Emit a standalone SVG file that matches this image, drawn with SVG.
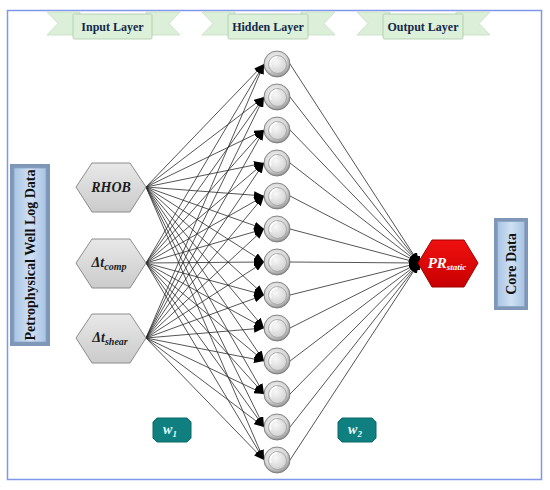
<svg xmlns="http://www.w3.org/2000/svg" width="550" height="490" viewBox="0 0 550 490">
<style>
.edge{stroke:#2a2a2a;stroke-width:0.8;fill:none}
.in{marker-end:url(#arr)}
.out{marker-end:url(#arr)}
.banner-tail{fill:#dcefd9;stroke:#c3dfc0;stroke-width:0.8}
.banner-body{fill:#ddf0da;stroke:#a9c9a6;stroke-width:0.8}
.banner-text{font-family:"Liberation Serif",serif;font-weight:bold;font-size:12px;fill:#14284b;text-anchor:middle}
.hex{fill:url(#hexg);stroke:#8c8c8c;stroke-width:1}
.hextext{font-family:"Liberation Serif",serif;font-weight:bold;font-style:italic;font-size:14px;fill:#1c1c1c;text-anchor:middle}
.side{font-family:"Liberation Serif",serif;font-weight:bold;font-size:14px;fill:#111;text-anchor:middle}
.wbox{fill:#0f7f80;stroke:#0a6a6b;stroke-width:1}
.wtext{font-family:"Liberation Serif",serif;font-style:italic;font-weight:bold;font-size:14px;fill:#e6fbfb;text-anchor:middle}
</style>
<defs>
<marker id="arr" viewBox="0 0 10 8" refX="10" refY="4" markerWidth="10" markerHeight="8" markerUnits="userSpaceOnUse" orient="auto">
<path d="M0,0 L10,4 L0,8 z" fill="#000"/>
</marker>
<linearGradient id="hexg" x1="0" y1="0" x2="0" y2="1">
<stop offset="0" stop-color="#e8e8e8"/>
<stop offset="1" stop-color="#cbcbcb"/>
</linearGradient>
<radialGradient id="nodeg" cx="0.45" cy="0.4" r="0.6">
<stop offset="0" stop-color="#ffffff"/>
<stop offset="0.7" stop-color="#d6d6d6"/>
<stop offset="1" stop-color="#8e8e8e"/>
</radialGradient>
<radialGradient id="innerg" cx="0.4" cy="0.35" r="0.7">
<stop offset="0" stop-color="#f8f8f8"/>
<stop offset="1" stop-color="#d0d0d0"/>
</radialGradient>
<linearGradient id="boxg" x1="0" y1="0" x2="1" y2="0">
<stop offset="0" stop-color="#a9c4e4"/>
<stop offset="0.5" stop-color="#cfe0f3"/>
<stop offset="1" stop-color="#a9c4e4"/>
</linearGradient>
<linearGradient id="redg" x1="0" y1="0" x2="0" y2="1">
<stop offset="0" stop-color="#f01010"/>
<stop offset="1" stop-color="#c80000"/>
</linearGradient>
<symbol id="node" overflow="visible">
<circle cx="0" cy="0" r="13" fill="url(#nodeg)" stroke="#7a7a7a" stroke-width="0.9"/>
<circle cx="0.5" cy="0.5" r="9" fill="url(#innerg)" stroke="#9a9a9a" stroke-width="0.8"/>
<path d="M-6,3 A7,7 0 0 1 0,-7" stroke="#ffffff" stroke-width="1.5" fill="none"/>
</symbol>
</defs>
<rect x="0" y="0" width="550" height="490" fill="#ffffff"/>
<rect x="7.5" y="10.5" width="534" height="469" fill="none" stroke="#7f96ea" stroke-width="1.5"/>

<g id="banner-input">
<polygon class="banner-tail" points="47,12 80,12 80,35 47,35 58,23.5"/>
<polygon class="banner-tail" points="180,12 146,12 146,35 180,35 169,23.5"/>
<rect class="banner-body" x="73" y="14" width="79" height="25" rx="1.5"/>
<text class="banner-text" x="112.5" y="31">Input Layer</text>
</g>
<g id="banner-hidden">
<polygon class="banner-tail" points="202,12 235,12 235,35 202,35 213,23.5"/>
<polygon class="banner-tail" points="335,12 301,12 301,35 335,35 324,23.5"/>
<rect class="banner-body" x="228" y="14" width="80" height="25" rx="1.5"/>
<text class="banner-text" x="268" y="31">Hidden Layer</text>
</g>
<g id="banner-output">
<polygon class="banner-tail" points="357,12 390,12 390,35 357,35 368,23.5"/>
<polygon class="banner-tail" points="490,12 456,12 456,35 490,35 479,23.5"/>
<rect class="banner-body" x="383" y="14" width="80" height="25" rx="1.5"/>
<text class="banner-text" x="423" y="31">Output Layer</text>
</g>

<g id="connectors">
<line class="edge in" x1="146" y1="187" x2="264" y2="64"/>
<line class="edge in" x1="146" y1="187" x2="264" y2="97"/>
<line class="edge in" x1="146" y1="187" x2="264" y2="130"/>
<line class="edge in" x1="146" y1="187" x2="264" y2="163"/>
<line class="edge in" x1="146" y1="187" x2="264" y2="196"/>
<line class="edge in" x1="146" y1="187" x2="264" y2="229"/>
<line class="edge in" x1="146" y1="187" x2="264" y2="262"/>
<line class="edge in" x1="146" y1="187" x2="264" y2="295"/>
<line class="edge in" x1="146" y1="187" x2="264" y2="328"/>
<line class="edge in" x1="146" y1="187" x2="264" y2="361"/>
<line class="edge in" x1="146" y1="187" x2="264" y2="394"/>
<line class="edge in" x1="146" y1="187" x2="264" y2="427"/>
<line class="edge in" x1="146" y1="187" x2="264" y2="460"/>
<line class="edge in" x1="146" y1="263" x2="264" y2="64"/>
<line class="edge in" x1="146" y1="263" x2="264" y2="97"/>
<line class="edge in" x1="146" y1="263" x2="264" y2="130"/>
<line class="edge in" x1="146" y1="263" x2="264" y2="163"/>
<line class="edge in" x1="146" y1="263" x2="264" y2="196"/>
<line class="edge in" x1="146" y1="263" x2="264" y2="229"/>
<line class="edge in" x1="146" y1="263" x2="264" y2="262"/>
<line class="edge in" x1="146" y1="263" x2="264" y2="295"/>
<line class="edge in" x1="146" y1="263" x2="264" y2="328"/>
<line class="edge in" x1="146" y1="263" x2="264" y2="361"/>
<line class="edge in" x1="146" y1="263" x2="264" y2="394"/>
<line class="edge in" x1="146" y1="263" x2="264" y2="427"/>
<line class="edge in" x1="146" y1="263" x2="264" y2="460"/>
<line class="edge in" x1="146" y1="338" x2="264" y2="64"/>
<line class="edge in" x1="146" y1="338" x2="264" y2="97"/>
<line class="edge in" x1="146" y1="338" x2="264" y2="130"/>
<line class="edge in" x1="146" y1="338" x2="264" y2="163"/>
<line class="edge in" x1="146" y1="338" x2="264" y2="196"/>
<line class="edge in" x1="146" y1="338" x2="264" y2="229"/>
<line class="edge in" x1="146" y1="338" x2="264" y2="262"/>
<line class="edge in" x1="146" y1="338" x2="264" y2="295"/>
<line class="edge in" x1="146" y1="338" x2="264" y2="328"/>
<line class="edge in" x1="146" y1="338" x2="264" y2="361"/>
<line class="edge in" x1="146" y1="338" x2="264" y2="394"/>
<line class="edge in" x1="146" y1="338" x2="264" y2="427"/>
<line class="edge in" x1="146" y1="338" x2="264" y2="460"/>
<line class="edge out" x1="290" y1="64" x2="419" y2="263"/>
<line class="edge out" x1="290" y1="97" x2="419" y2="263"/>
<line class="edge out" x1="290" y1="130" x2="419" y2="263"/>
<line class="edge out" x1="290" y1="163" x2="419" y2="263"/>
<line class="edge out" x1="290" y1="196" x2="419" y2="263"/>
<line class="edge out" x1="290" y1="229" x2="419" y2="263"/>
<line class="edge out" x1="290" y1="262" x2="419" y2="263"/>
<line class="edge out" x1="290" y1="295" x2="419" y2="263"/>
<line class="edge out" x1="290" y1="328" x2="419" y2="263"/>
<line class="edge out" x1="290" y1="361" x2="419" y2="263"/>
<line class="edge out" x1="290" y1="394" x2="419" y2="263"/>
<line class="edge out" x1="290" y1="427" x2="419" y2="263"/>
<line class="edge out" x1="290" y1="460" x2="419" y2="263"/>
</g>

<g id="petrophysical">
<rect x="10" y="164" width="40" height="182" fill="#7e97b8"/>
<rect x="14" y="168" width="32" height="174" fill="url(#boxg)" stroke="#8aa3c4" stroke-width="0.8"/>
<text class="side" transform="translate(35,255) rotate(-90)">Petrophysical Well Log Data</text>
</g>

<g id="rhob">
<polygon class="hex" points="76,187 92,163 130,163 146,187 130,212 92,212"/>
<text class="hextext" x="111" y="192">RHOB</text>
</g>
<g id="dt-comp">
<polygon class="hex" points="76,263 92,239 130,239 146,263 130,288 92,288"/>
<text class="hextext" x="109" y="267">Δt<tspan font-size="10" dy="3">comp</tspan></text>
</g>
<g id="dt-shear">
<polygon class="hex" points="76,338 92,314 130,314 146,338 130,363 92,363"/>
<text class="hextext" x="110" y="342">Δt<tspan font-size="10" dy="3">shear</tspan></text>
</g>

<g id="hidden-nodes">
<use href="#node" x="277" y="64"/>
<use href="#node" x="277" y="97"/>
<use href="#node" x="277" y="130"/>
<use href="#node" x="277" y="163"/>
<use href="#node" x="277" y="196"/>
<use href="#node" x="277" y="229"/>
<use href="#node" x="277" y="262"/>
<use href="#node" x="277" y="295"/>
<use href="#node" x="277" y="328"/>
<use href="#node" x="277" y="361"/>
<use href="#node" x="277" y="394"/>
<use href="#node" x="277" y="427"/>
<use href="#node" x="277" y="460"/>
</g>

<g id="pr-static">
<rect x="415" y="256" width="5" height="14" fill="#000"/>
<polygon points="418,263 432,240 464,240 478,263 464,287 432,287" fill="url(#redg)" stroke="#a00000" stroke-width="1"/>
<text x="447" y="268" font-family="Liberation Serif, serif" font-weight="bold" font-style="italic" font-size="15" fill="#ffffff" text-anchor="middle">PR<tspan font-size="9" dy="2">static</tspan></text>
</g>

<g id="core-data">
<rect x="494" y="218" width="34" height="92" fill="#7e97b8"/>
<rect x="497.5" y="221.5" width="27" height="85" fill="url(#boxg)" stroke="#8aa3c4" stroke-width="0.8"/>
<text class="side" transform="translate(516,264) rotate(-90)">Core Data</text>
</g>

<g id="w1">
<path class="wbox" d="M157,418 L187,418 L191,422 L191,438 L187,442 L157,442 L153,438 L153,422 Z"/>
<text class="wtext" x="170" y="434">w<tspan font-size="9" dy="3">1</tspan></text>
</g>
<g id="w2">
<path class="wbox" d="M342,418 L372,418 L376,422 L376,438 L372,442 L342,442 L338,438 L338,422 Z"/>
<text class="wtext" x="355" y="434">w<tspan font-size="9" dy="3">2</tspan></text>
</g>
</svg>
